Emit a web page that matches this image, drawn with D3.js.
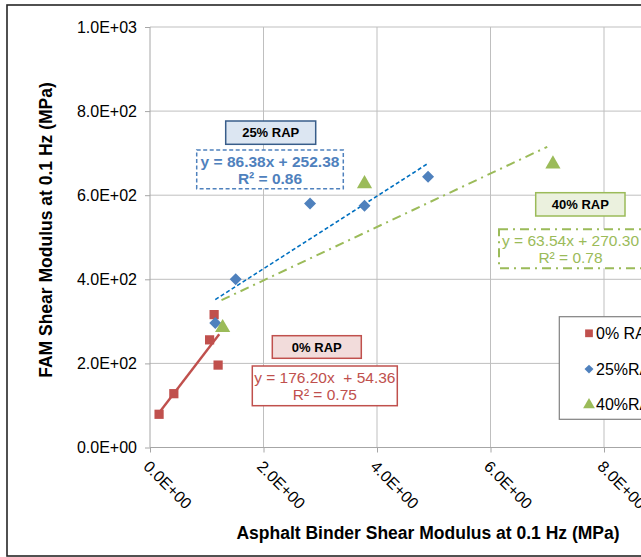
<!DOCTYPE html>
<html>
<head>
<meta charset="utf-8">
<script src="https://cdn.jsdelivr.net/npm/d3@7"></script>
<style>
  html, body { margin: 0; padding: 0; background: #fff; }
  svg { display: block; font-family: "Liberation Sans", Arial, sans-serif; }
</style>
</head>
<body>
<svg id="chart" width="641" height="557"></svg>
<script>
// ---------- data ----------
const xTicks = [0, 2, 4, 6, 8, 10];
const yTicks = [0, 200, 400, 600, 800, 1000];

const rap0X  = [0.16, 0.42, 1.05, 1.13, 1.20];
const rap0Y  = [79, 128, 256, 316, 196];
const rap25X = [1.15, 1.51, 2.82, 3.78, 4.90];
const rap25Y = [296, 400, 580, 575, 644];
const rap40X = [1.28, 3.78, 7.10];
const rap40Y = [285, 627, 674];

const seriesNames = ["0% RAP", "25%RAP", "40%RAP"];
const trendSlope = [176.20, 86.38, 63.54];
const trendIntercept = [54.36, 252.38, 270.30];
const trendRange = [[0.16, 1.22], [1.15, 4.90], [1.26, 7.00]];
const eqLine1 = ["y = 176.20x  + 54.36", "y = 86.38x + 252.38", "y = 63.54x + 270.30"];
const eqLine2 = ["R\u00b2 = 0.75", "R\u00b2 = 0.86", "R\u00b2 = 0.78"];
const groupLabels = ["0% RAP", "25% RAP", "40% RAP"];

// ---------- layout ----------
const svg = d3.select("#chart");
const x = d3.scaleLinear().domain([0, 10]).range([150, 717.5]);
const y = d3.scaleLinear().domain([0, 1000]).range([447.5, 27]);

const colors = ["#c0504d", "#4f81bd", "#9bbb59"];
const trendColors = ["#c0504d", "#0070c0", "#9bbb59"];
const fmt = d => {
  const s = d.toExponential(1).toUpperCase();
  return s.replace(/E([+-])(\d)$/, "E$10$2");
};

// outer border
svg.append("rect").attr("x", 7).attr("y", 5).attr("width", 720).attr("height", 551)
  .attr("fill", "none").attr("stroke", "#262626").attr("stroke-width", 1.6);

// gridlines
const grid = svg.append("g");
grid.selectAll("line.h").data(yTicks.slice(1)).join("line")
  .attr("x1", x(0)).attr("x2", x(10)).attr("y1", d => y(d)).attr("y2", d => y(d))
  .attr("stroke", "#bfbfbf").attr("stroke-width", 1);
grid.selectAll("line.v").data(xTicks.slice(1)).join("line")
  .attr("y1", y(0)).attr("y2", y(1000)).attr("x1", d => x(d)).attr("x2", d => x(d))
  .attr("stroke", "#bfbfbf").attr("stroke-width", 1);

// axes
const yAxis = svg.append("g").attr("transform", `translate(${x(0)},0)`)
  .call(d3.axisLeft(y).tickValues(yTicks).tickFormat(fmt).tickSize(5).tickPadding(8));
const xAxis = svg.append("g").attr("transform", `translate(0,${y(0)})`)
  .call(d3.axisBottom(x).tickValues(xTicks).tickFormat(fmt).tickSize(5));
[xAxis, yAxis].forEach(a => {
  a.select(".domain").attr("stroke", "#a6a6a6");
  a.selectAll(".tick line").attr("stroke", "#a6a6a6");
  a.selectAll("text").attr("fill", "#000").style("font-size", "16px")
    .style("font-family", "'Liberation Sans', Arial, sans-serif");
});
yAxis.select(".domain").attr("d", `M0,${y(0)}V${y(1000)}`);
xAxis.select(".domain").attr("d", `M${x(0)},0H${x(10)}`);
xAxis.selectAll(".tick text")
  .attr("text-anchor", "start").attr("y", 0).attr("dy", 0)
  .attr("transform", "translate(-8,20) rotate(45)");

// axis titles
svg.append("text").attr("transform", "translate(51.5,230) rotate(-90)")
  .attr("text-anchor", "middle").style("font-size", "17.5px").style("font-weight", "bold")
  .text("FAM Shear Modulus at 0.1 Hz (MPa)");
svg.append("text").attr("x", 428).attr("y", 539)
  .attr("text-anchor", "middle").style("font-size", "17.5px").style("font-weight", "bold")
  .text("Asphalt Binder Shear Modulus at 0.1 Hz (MPa)");

// trendlines
const dashes = [null, "4,2.5", "9,5,2,5"];
const widths = [2.4, 1.6, 2];
trendSlope.forEach((m, i) => {
  const [a, b] = trendRange[i];
  svg.append("line")
    .attr("x1", x(a)).attr("y1", y(m * a + trendIntercept[i]))
    .attr("x2", x(b)).attr("y2", y(m * b + trendIntercept[i]))
    .attr("stroke", trendColors[i]).attr("stroke-width", widths[i])
    .attr("stroke-dasharray", dashes[i]);
});

// markers
const sym = [d3.symbolSquare, d3.symbolSquare, d3.symbolTriangle];
const rot = [0, 45, 0];
const symSize = [85, 72, 100];
const seriesX = [rap0X, rap25X, rap40X];
const seriesY = [rap0Y, rap25Y, rap40Y];
seriesX.forEach((xs, i) => {
  svg.append("g").selectAll("path").data(xs.map((v, j) => [v, seriesY[i][j]])).join("path")
    .attr("transform", d => `translate(${x(d[0])},${y(d[1])}) rotate(${rot[i]})`)
    .attr("d", d3.symbol().type(sym[i]).size(symSize[i]))
    .attr("fill", colors[i]);
});

// group label boxes
const labelBoxes = [
  {x: 272.3, y: 335.7, w: 89, h: 22.6, fill: "#f2dcdb", stroke: "#c0504d"},
  {x: 225.7, y: 121, w: 90, h: 23.3, fill: "#dce6f2", stroke: "#385d8a"},
  {x: 535.7, y: 192.7, w: 89.3, h: 23.3, fill: "#ebf1de", stroke: "#9bbb59"}
];
labelBoxes.forEach((b, i) => {
  svg.append("rect").attr("x", b.x).attr("y", b.y).attr("width", b.w).attr("height", b.h)
    .attr("fill", b.fill).attr("stroke", b.stroke).attr("stroke-width", 1.5);
  svg.append("text").attr("x", b.x + b.w / 2).attr("y", b.y + b.h / 2 + 4.5)
    .attr("text-anchor", "middle").style("font-size", "13px").style("font-weight", "bold")
    .attr("fill", "#000").text(groupLabels[i]);
});

// equation boxes
const eqBoxes = [
  {x: 252.3, y: 366, w: 145, h: 39.7, dash: null, sw: 1.5, bold: false, text: "#c0504d"},
  {x: 196.7, y: 150, w: 146.6, h: 38.7, dash: "4,2.5", sw: 1.5, bold: true, text: "#4f81bd"},
  {x: 499, y: 229.3, w: 143, h: 39, dash: "9,5,2,5", sw: 2, bold: false, text: "#9bbb59"}
];
eqBoxes.forEach((b, i) => {
  svg.append("rect").attr("x", b.x).attr("y", b.y).attr("width", b.w).attr("height", b.h)
    .attr("fill", "#fff").attr("stroke", i === 1 ? "#4f81bd" : colors[i])
    .attr("stroke-width", b.sw).attr("stroke-dasharray", b.dash);
  const t = svg.append("text").attr("text-anchor", "middle")
    .style("font-size", "15.5px").style("font-weight", b.bold ? "bold" : "normal")
    .attr("fill", b.text).style("white-space", "pre");
  t.append("tspan").attr("x", b.x + b.w / 2).attr("y", b.y + 17).text(eqLine1[i]);
  t.append("tspan").attr("x", b.x + b.w / 2).attr("y", b.y + 34).text(eqLine2[i]);
});

// legend
const lg = svg.append("g");
lg.append("rect").attr("x", 559.3).attr("y", 316.7).attr("width", 120).attr("height", 102.6)
  .attr("fill", "#fff").attr("stroke", "#808080").attr("stroke-width", 1.2);
seriesNames.forEach((n, i) => {
  const cy = 333.3 + i * 35.8;
  lg.append("path").attr("transform", `translate(589,${cy}) rotate(${rot[i]})`)
    .attr("d", d3.symbol().type(sym[i]).size([60, 40, 60][i])).attr("fill", colors[i]);
  lg.append("text").attr("x", 596).attr("y", cy + 5.5).style("font-size", "16px")
    .attr("fill", "#000").text(n);
});
</script>
</body>
</html>
